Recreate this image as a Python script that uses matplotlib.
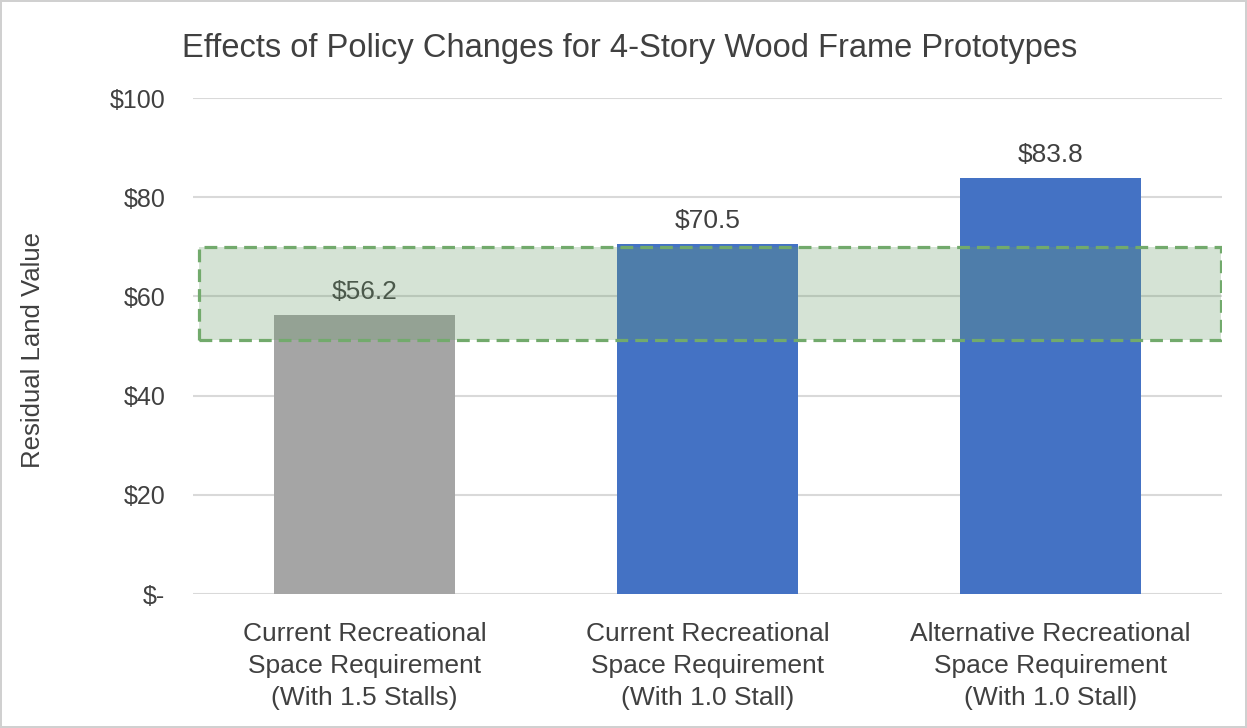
import matplotlib
matplotlib.use('Agg')
import matplotlib.pyplot as plt
from matplotlib.patches import Rectangle

categories = ['Current Recreational\nSpace Requirement\n(With 1.5 Stalls)',
              'Current Recreational\nSpace Requirement\n(With 1.0 Stall)',
              'Alternative Recreational\nSpace Requirement\n(With 1.0 Stall)']
values = [56.2, 70.5, 83.8]
bar_colors = ['#a5a5a5', '#4472c4', '#4472c4']
yticks = [0, 20, 40, 60, 80, 100]
ytick_labels = ['$-', '$20', '$40', '$60', '$80', '$100']
band_low, band_high = 51.2, 70.0

plt.rcParams['font.family'] = ['Liberation Sans', 'DejaVu Sans']
txt = '#404040'

fig = plt.figure(figsize=(12.47, 7.28), dpi=100)
fig.patch.set_edgecolor('#d0d0d0')
fig.patch.set_linewidth(1.5)
ax = fig.add_axes([193/1247, 1 - 594/728, 1029/1247, 496/728])

x = list(range(len(values)))
ax.bar(x, values, width=0.525, color=bar_colors, zorder=2)
for xi, v in zip(x, values):
    ax.annotate(f'${v:.1f}', (xi, v), xytext=(0, 8), textcoords='offset points',
                ha='center', va='bottom', fontsize=19, color=txt, zorder=3)

# target range band
ax.add_patch(Rectangle((-0.482, band_low), 2.979, band_high - band_low,
                       facecolor='#699b69', alpha=0.28, edgecolor='none', zorder=4))
ax.add_patch(Rectangle((-0.482, band_low), 2.979, band_high - band_low,
                       facecolor='none', edgecolor='#72aa6c', linewidth=2.3,
                       linestyle=(0, (4, 2.2)), zorder=5))

ax.set_xlim(-0.5, 2.5)
ax.set_ylim(0, 100)
ax.set_yticks(yticks)
ax.set_yticklabels(ytick_labels)
ax.set_xticks(x)
ax.set_xticklabels(categories, linespacing=1.42)
ax.grid(axis='y', color='#d9d9d9', linewidth=1.5, zorder=0)
ax.set_axisbelow(True)
for s in ['top', 'right', 'left', 'bottom']:
    ax.spines[s].set_visible(False)
ax.tick_params(axis='both', length=0, labelcolor=txt)
ax.tick_params(axis='y', pad=20, labelsize=18)
ax.tick_params(axis='x', pad=20, labelsize=19)

fig.text(33/1247, 1 - 350/728, 'Residual Land Value', rotation=90,
         ha='center', va='center', fontsize=18.5, color=txt)
fig.text(630/1247, 1 - 48/728, 'Effects of Policy Changes for 4-Story Wood Frame Prototypes',
         ha='center', va='center', fontsize=23.5, color=txt)

fig.savefig('out.png', dpi=100, edgecolor=fig.get_edgecolor())
